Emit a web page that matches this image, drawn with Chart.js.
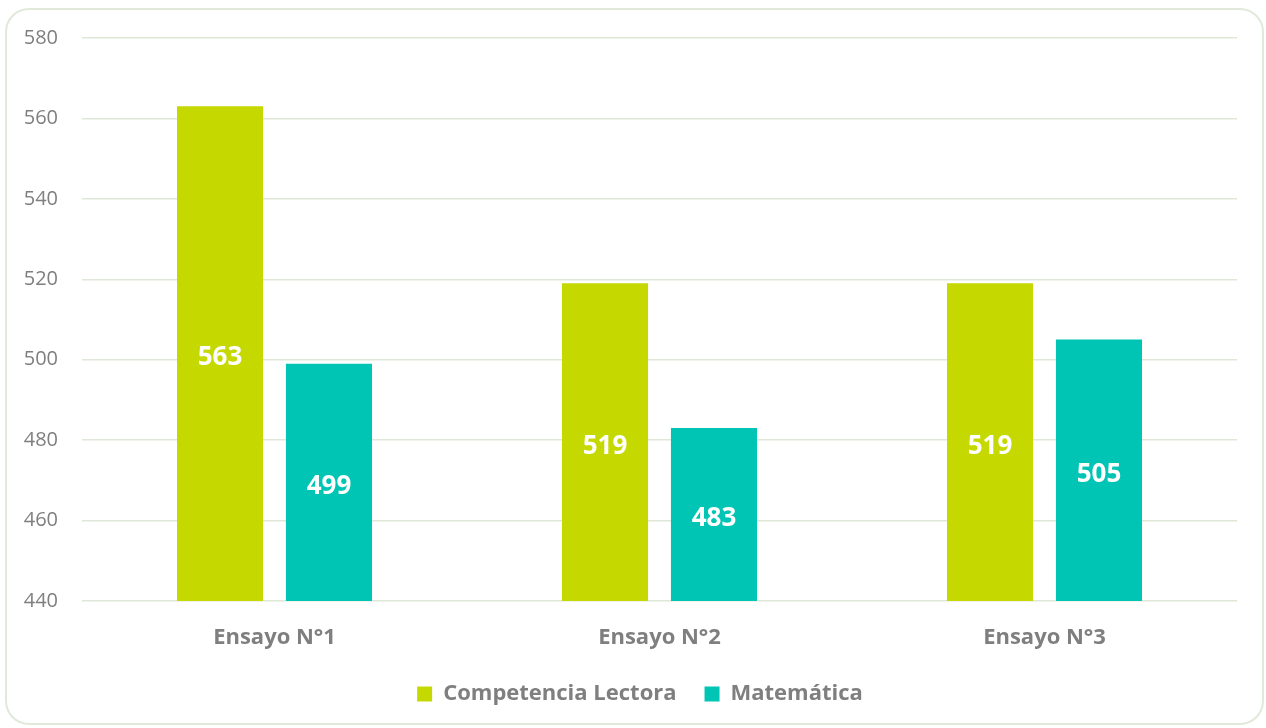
<!DOCTYPE html>
<html>
<head>
<meta charset="utf-8">
<script src="https://cdn.jsdelivr.net/npm/chart.js@4/dist/chart.umd.min.js"></script>
<style>
    html, body { margin: 0; padding: 0; background: #ffffff; }
    #frame {
        position: absolute; left: 5px; top: 8px; width: 1255px; height: 713px;
        border: 2px solid #e1e9da; border-radius: 24px;
    }
    #wrap { position: absolute; left: 0; top: 0; width: 1266px; height: 728px; }
</style>
</head>
<body>
<div id="frame"></div>
<div id="wrap"><canvas id="chart"></canvas></div>
<script>
const categories = ['Ensayo N°1', 'Ensayo N°2', 'Ensayo N°3'];
const lectora = [563, 519, 519];
const matematica = [499, 483, 505];
const seriesNames = ['Competencia Lectora', 'Matemática'];

const FONT = "'Open Sans', sans-serif";

// value labels in the middle of each bar
const barLabels = {
    id: 'barLabels',
    afterDraw(chart) {
        const c = chart.ctx;
        const yScale = chart.scales.y;
        c.save();
        c.fillStyle = '#ffffff';
        c.font = 'bold 26px ' + FONT;
        c.textAlign = 'center';
        c.textBaseline = 'middle';
        chart.data.datasets.forEach((ds, i) => {
            chart.getDatasetMeta(i).data.forEach((bar, j) => {
                const top = yScale.getPixelForValue(ds.data[j]);
                const base = yScale.getPixelForValue(yScale.min);
                c.fillText(String(ds.data[j]), bar.x, (top + base) / 2 + 4);
            });
        });
        c.restore();
    }
};

const ctx = document.getElementById('chart').getContext('2d');
new Chart(ctx, {
    type: 'bar',
    data: {
        labels: categories,
        datasets: [
            { label: seriesNames[0], data: lectora, backgroundColor: '#c5d900' },
            { label: seriesNames[1], data: matematica, backgroundColor: '#00c5b4' }
        ]
    },
    options: {
        responsive: true,
        maintainAspectRatio: false,
        animation: false,
        categoryPercentage: 0.566,
        barPercentage: 0.79,
        layout: { padding: { left: 14, right: 0, top: 38, bottom: 13 } },
        scales: {
            y: {
                min: 440,
                max: 580,
                ticks: { stepSize: 20, color: '#7f7f7f', padding: 24, font: { family: FONT, size: 20 } },
                grid: { color: '#dfe7d7', lineWidth: 1.5, drawTicks: false },
                border: { display: false },
                afterFit(scale) { scale.width = 68; }
            },
            // empty spacer on the right side of the plot
            yRight: {
                position: 'right',
                ticks: { display: false },
                grid: { display: false, drawTicks: false },
                border: { display: false },
                afterFit(scale) { scale.width = 29; }
            },
            x: {
                ticks: { color: '#7f7f7f', padding: 24, font: { family: FONT, size: 22, weight: 'bold' } },
                grid: { display: false, drawTicks: false },
                border: { display: false },
                afterFit(scale) { scale.height = 54; }
            }
        },
        plugins: {
            legend: {
                position: 'bottom',
                labels: {
                    color: '#7f7f7f',
                    boxWidth: 15,
                    boxHeight: 15,
                    padding: 28,
                    font: { family: FONT, size: 22, weight: 'bold' }
                }
            },
            tooltip: { enabled: false }
        }
    },
    plugins: [barLabels]
});
</script>
</body>
</html>
